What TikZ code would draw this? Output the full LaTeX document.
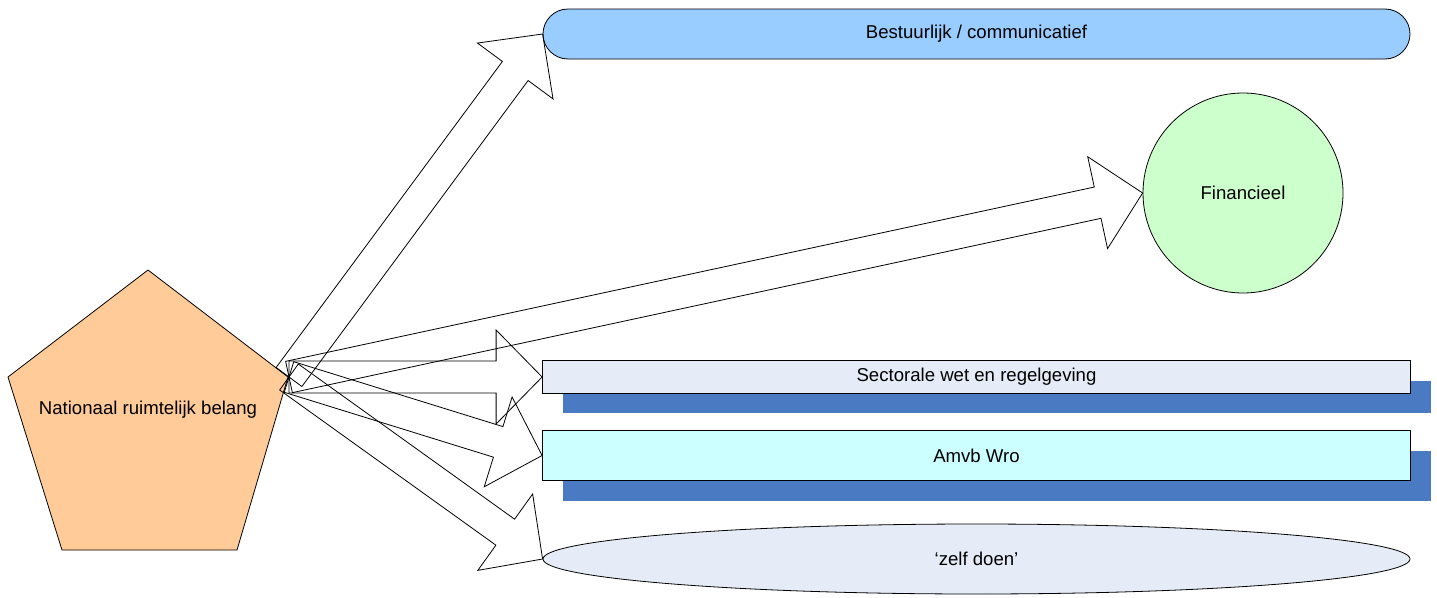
\documentclass[tikz,border=0pt]{standalone}
\usepackage{fontspec}
\setmainfont{Liberation Sans}
\usetikzlibrary{calc,shapes.geometric,shadows}
\definecolor{pentafill}{RGB}{255,204,153}
\definecolor{bestfill}{RGB}{153,204,255}
\definecolor{finfill}{RGB}{204,255,204}
\definecolor{lavfill}{RGB}{230,236,247}
\definecolor{cyanfill}{RGB}{204,255,255}
\definecolor{shadowblue}{RGB}{74,122,194}
\tikzset{
  outline/.style={draw=black, line width=0.8pt},
  lbl/.style={font=\fontsize{18.6}{22}\selectfont, text=black},
  barbox/.style={outline, lbl, rectangle, inner sep=0pt, minimum width=868pt},
  shadowed/.style={drop shadow={shadow xshift=20pt, shadow yshift=-20pt, fill=shadowblue, opacity=1}},
  blockarrowline/.style={draw=black, line width=0.8pt, line join=miter}
}
\newcommand\blockarrow[2]{%
  \coordinate (hb) at ($(#2)!46pt!(#1)$);
  \draw[blockarrowline]
    ($(#1)!16pt!90:(#2)$) -- ($(hb)!16pt!90:(#2)$) -- ($(hb)!47pt!90:(#2)$)
    -- (#2)
    -- ($(hb)!47pt!-90:(#2)$) -- ($(hb)!16pt!-90:(#2)$) -- ($(#1)!16pt!-90:(#2)$) -- cycle;
}
\begin{document}
\begin{tikzpicture}[x=1pt,y=-1pt]
\useasboundingbox[fill=white] (0,0) rectangle (1437,597);

% pentagon
\draw[outline, fill=pentafill] (148,270) -- (288,377) -- (237,550) -- (62,550) -- (8,377) -- cycle;
\node[lbl] (penta) at (148,410) {Nationaal ruimtelijk belang};
\coordinate (src) at (289,377);

% targets
\node[outline, lbl, fill=bestfill, rounded corners=25pt, minimum width=867pt, minimum height=50pt, inner sep=0pt]
  (best) at (976.5,34) {Bestuurlijk / communicatief};
\node[outline, lbl, fill=finfill, circle, minimum size=200pt, inner sep=0pt]
  (fin) at (1243,193) {Financieel};
\node[barbox, shadowed, fill=lavfill, minimum height=32.5pt]
  (sect) at (976.5,377) {Sectorale wet en regelgeving};
\node[barbox, shadowed, fill=cyanfill, minimum height=50pt]
  (amvb) at (976.5,455.5) {Amvb Wro};
\node[outline, lbl, fill=lavfill, ellipse, minimum width=867pt, minimum height=70pt, inner sep=0pt]
  (zelf) at (976.5,559) {‘zelf doen’};

% block arrows
\blockarrow{src}{best.west}
\blockarrow{src}{fin.west}
\blockarrow{src}{sect.west}
\blockarrow{src}{amvb.west}
\blockarrow{src}{zelf.west}
\end{tikzpicture}
\end{document}
